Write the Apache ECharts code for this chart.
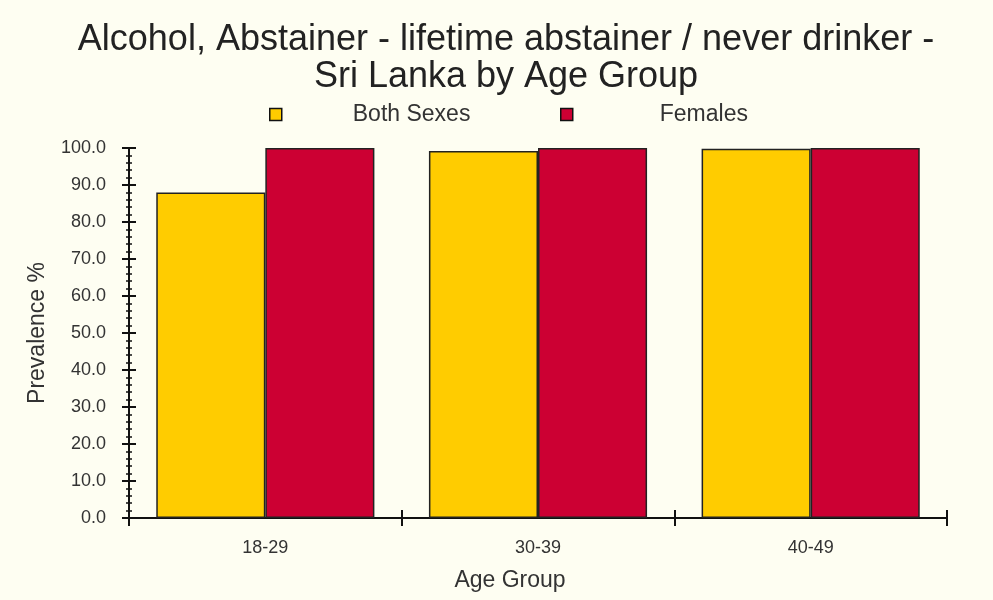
<!DOCTYPE html>
<html>
<head>
<meta charset="utf-8">
<script src="https://cdn.jsdelivr.net/npm/echarts@6/dist/echarts.min.js"></script>
<style>
  html, body { margin: 0; padding: 0; background: #FEFEF2; }
  #chart { width: 993px; height: 600px; }
</style>
</head>
<body>
<div id="chart"></div>
<script>
// Age groups and prevalence (%) of lifetime abstainers
const ageGroups = ['18-29', '30-39', '40-49'];
const bothSexes = [88.0, 99.2, 99.8];
const females = [100.0, 100.0, 100.0];
const seriesNames = ['Both Sexes', 'Females'];

const font = 'Arial, "Liberation Sans", sans-serif';
const textColor = '#333';

const chart = echarts.init(document.getElementById('chart'));

const yBase = {
  type: 'value',
  min: 0,
  max: 100,
  interval: 10,
  position: 'left',
  splitLine: { show: false },
  axisLine: { show: true, lineStyle: { color: '#111', width: 2 } },
  minorTick: { show: true, splitNumber: 5, length: 3, lineStyle: { color: '#111', width: 1.5 } },
  axisTick: { show: true, length: 7, lineStyle: { color: '#111', width: 2 } }
};

const xBase = {
  type: 'category',
  data: ageGroups,
  position: 'bottom',
  axisLine: { show: true, lineStyle: { color: '#111', width: 2 } },
  axisTick: { show: true, length: 8, alignWithLabel: false, lineStyle: { color: '#111', width: 2 } }
};

chart.setOption({
  backgroundColor: '#FEFEF2',
  animation: false,
  title: {
    text: 'Alcohol, Abstainer - lifetime abstainer / never drinker -\nSri Lanka by Age Group',
    left: 501,
    textAlign: 'center',
    top: 17,
    textStyle: { fontFamily: font, fontSize: 36, fontWeight: 'normal', color: '#222', lineHeight: 37 }
  },
  legend: [
    {
      data: [seriesNames[0]],
      left: 264, top: 98,
      itemWidth: 12, itemHeight: 12,
      icon: 'rect',
      itemStyle: { borderColor: '#111', borderWidth: 1.5 },
      textStyle: { fontFamily: font, fontSize: 23, color: textColor, padding: [0, 0, 0, 66] }
    },
    {
      data: [seriesNames[1]],
      left: 555, top: 98,
      itemWidth: 12, itemHeight: 12,
      icon: 'rect',
      itemStyle: { borderColor: '#111', borderWidth: 1.5 },
      textStyle: { fontFamily: font, fontSize: 23, color: textColor, padding: [0, 0, 0, 82] }
    }
  ],
  grid: { left: 129, right: 46, top: 148, bottom: 82 },
  xAxis: [
    Object.assign({}, xBase, {
      name: 'Age Group',
      nameLocation: 'middle',
      nameGap: 51,
      nameTextStyle: { fontFamily: font, fontSize: 23, color: textColor, padding: [0, 56, 0, 0] },
      axisLabel: { fontFamily: font, fontSize: 18, color: textColor, margin: 21 }
    }),
    Object.assign({}, xBase, {
      axisTick: Object.assign({}, xBase.axisTick, { inside: true }),
      axisLabel: { show: false }
    })
  ],
  yAxis: [
    Object.assign({}, yBase, {
      name: 'Prevalence %',
      nameLocation: 'middle',
      nameGap: 80,
      nameTextStyle: { fontFamily: font, fontSize: 23, color: textColor },
      axisLabel: {
        fontFamily: font, fontSize: 18, color: textColor, margin: 23,
        formatter: v => v.toFixed(1)
      }
    }),
    Object.assign({}, yBase, {
      axisTick: Object.assign({}, yBase.axisTick, { inside: true }),
      minorTick: Object.assign({}, yBase.minorTick, { inside: true }),
      axisLabel: { show: false }
    })
  ],
  series: [
    {
      name: seriesNames[0],
      type: 'bar',
      data: bothSexes,
      barGap: '0%',
      barCategoryGap: '20%',
      itemStyle: { color: '#FFCC00', borderColor: '#222', borderWidth: 1.5 }
    },
    {
      name: seriesNames[1],
      type: 'bar',
      data: females,
      barGap: '0%',
      barCategoryGap: '20%',
      itemStyle: { color: '#CC0033', borderColor: '#222', borderWidth: 1.5 }
    }
  ]
});
</script>
</body>
</html>
